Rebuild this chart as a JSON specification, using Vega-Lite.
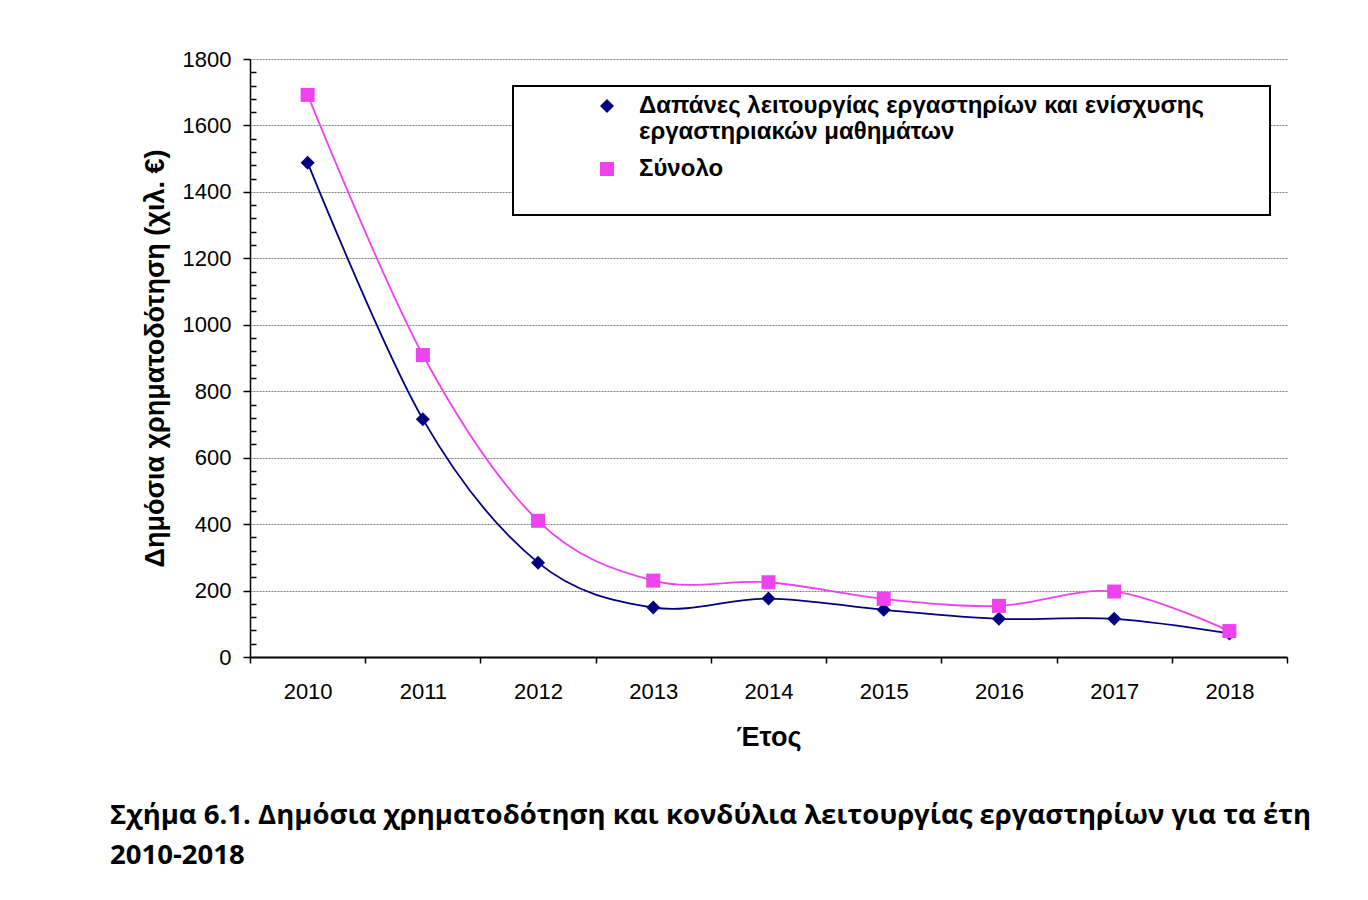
{
  "$schema": "https://vega.github.io/schema/vega-lite/v6.json",
  "width": 1037,
  "height": 598,
  "autosize": {"type": "none"},
  "padding": {"left": 250, "top": 59, "right": 81, "bottom": 243},
  "background": "white",
  "config": {
    "view": {"stroke": null},
    "font": "Liberation Sans",
    "axis": {"labelFont": "Liberation Sans", "titleFont": "Liberation Sans", "labelColor": "black", "titleColor": "black", "domainColor": "black", "tickColor": "black"},
    "legend": {"strokeWidth": 2}
  },
  "title": {
    "text": ["Σχήμα 6.1. Δημόσια χρηματοδότηση και κονδύλια λειτουργίας εργαστηρίων για τα έτη", "2010-2018"],
    "orient": "bottom",
    "anchor": "start",
    "frame": "bounds",
    "offset": 52,
    "dx": -31,
    "font": "Open Sans",
    "fontSize": 27.5,
    "fontWeight": "bold",
    "lineHeight": 40,
    "color": "black"
  },
  "data": {
    "values": [
      {"year": 2010, "series": "Δαπάνες λειτουργίας εργαστηρίων και ενίσχυσης εργαστηριακών μαθημάτων", "value": 1488},
      {"year": 2011, "series": "Δαπάνες λειτουργίας εργαστηρίων και ενίσχυσης εργαστηριακών μαθημάτων", "value": 716},
      {"year": 2012, "series": "Δαπάνες λειτουργίας εργαστηρίων και ενίσχυσης εργαστηριακών μαθημάτων", "value": 284},
      {"year": 2013, "series": "Δαπάνες λειτουργίας εργαστηρίων και ενίσχυσης εργαστηριακών μαθημάτων", "value": 149},
      {"year": 2014, "series": "Δαπάνες λειτουργίας εργαστηρίων και ενίσχυσης εργαστηριακών μαθημάτων", "value": 176},
      {"year": 2015, "series": "Δαπάνες λειτουργίας εργαστηρίων και ενίσχυσης εργαστηριακών μαθημάτων", "value": 142},
      {"year": 2016, "series": "Δαπάνες λειτουργίας εργαστηρίων και ενίσχυσης εργαστηριακών μαθημάτων", "value": 115},
      {"year": 2017, "series": "Δαπάνες λειτουργίας εργαστηρίων και ενίσχυσης εργαστηριακών μαθημάτων", "value": 115},
      {"year": 2018, "series": "Δαπάνες λειτουργίας εργαστηρίων και ενίσχυσης εργαστηριακών μαθημάτων", "value": 71},
      {"year": 2010, "series": "Σύνολο", "value": 1692},
      {"year": 2011, "series": "Σύνολο", "value": 909},
      {"year": 2012, "series": "Σύνολο", "value": 410},
      {"year": 2013, "series": "Σύνολο", "value": 230},
      {"year": 2014, "series": "Σύνολο", "value": 225},
      {"year": 2015, "series": "Σύνολο", "value": 175},
      {"year": 2016, "series": "Σύνολο", "value": 154},
      {"year": 2017, "series": "Σύνολο", "value": 197},
      {"year": 2018, "series": "Σύνολο", "value": 78}
    ]
  },
  "encoding": {
    "x": {
      "field": "year", "type": "ordinal", "bandPosition": 0.5,
      "scale": {"type": "band", "paddingInner": 0, "paddingOuter": 0},
      "axis": {
        "title": "Έτος", "titleFontSize": 27, "titleFontWeight": "bold", "titlePadding": 22,
        "labelFontSize": 22, "labelAngle": 0, "labelPadding": 18,
        "tickBand": "extent", "tickSize": 6, "tickWidth": 1.5,
        "domainWidth": 2, "grid": false
      }
    },
    "y": {
      "field": "value", "type": "quantitative",
      "scale": {"domain": [0, 1800], "nice": false, "zero": true},
      "axis": {
        "title": "Δημόσια χρηματοδότηση (χιλ. €)", "titleFontSize": 27, "titleFontWeight": "bold", "titlePadding": 13,
        "labelFontSize": 22, "labelPadding": 12, "labelOverlap": false, "labelBound": false,
        "format": "d", "tickCount": 100,
        "values": [0, 40, 80, 120, 160, 200, 240, 280, 320, 360, 400, 440, 480, 520, 560, 600, 640, 680, 720, 760, 800, 840, 880, 920, 960, 1000, 1040, 1080, 1120, 1160, 1200, 1240, 1280, 1320, 1360, 1400, 1440, 1480, 1520, 1560, 1600, 1640, 1680, 1720, 1760, 1800],
        "labelExpr": "datum.value % 200 === 0 ? datum.label : ''",
        "tickSize": {"condition": {"test": "datum.value % 200 !== 0", "value": -6}, "value": 7},
        "tickWidth": 1.5, "domainWidth": 1.5,
        "grid": true, "gridColor": "#7f7f7f", "gridDash": [2, 1], "gridWidth": 1,
        "gridOpacity": {"condition": {"test": "datum.value % 200 === 0", "value": 1}, "value": 0}
      }
    },
    "color": {
      "field": "series", "type": "nominal",
      "scale": {"domain": ["Δαπάνες λειτουργίας εργαστηρίων και ενίσχυσης εργαστηριακών μαθημάτων", "Σύνολο"], "range": ["#000080", "#ee42ee"]},
      "legend": {
        "title": " ", "titleOrient": "right", "titleFontSize": 2, "titlePadding": 58,
        "orient": "none", "legendX": 263, "legendY": 27,
        "padding": 8, "strokeColor": "black", "fillColor": "white",
        "labelFont": "Liberation Sans", "labelFontSize": 24, "labelFontWeight": "bold", "labelColor": "black",
        "labelLimit": 900, "labelOffset": 20, "symbolOffset": 74, "symbolSize": 196, "symbolStrokeWidth": 0,
        "rowPadding": 13,
        "labelExpr": "datum.value == 'Σύνολο' ? ['Σύνολο', ' '] : ['Δαπάνες λειτουργίας εργαστηρίων και ενίσχυσης', 'εργαστηριακών μαθημάτων']"
      }
    }
  },
  "layer": [
    {
      "mark": {"type": "line", "interpolate": "cardinal", "strokeWidth": 1.8}
    },
    {
      "mark": {"type": "point", "filled": true, "size": 196, "opacity": 1},
      "encoding": {
        "shape": {
          "field": "series", "type": "nominal",
          "scale": {"domain": ["Δαπάνες λειτουργίας εργαστηρίων και ενίσχυσης εργαστηριακών μαθημάτων", "Σύνολο"], "range": ["diamond", "square"]},
          "legend": null
        }
      }
    }
  ]
}
